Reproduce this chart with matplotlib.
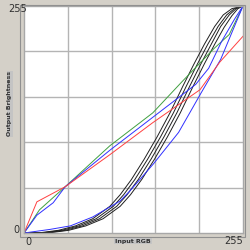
import matplotlib
matplotlib.use('Agg')
import matplotlib.pyplot as plt
from matplotlib.patches import Rectangle

# curve points (input, output)
red_x = [0, 15, 48, 100, 150, 205, 228, 255]
red_y = [0, 35, 52, 88, 124, 161, 192, 221]
green_x = [0, 18, 48, 100, 150, 184, 221, 239, 255]
green_y = [0, 26, 52, 98, 135, 170, 207, 223, 255]
blue_up_x = [0, 15, 34, 48, 100, 150, 200, 215, 230, 245, 255]
blue_up_y = [0, 20, 34, 52, 93, 130, 167, 185, 215, 240, 255]
blue_lo_x = [0, 30, 54, 80, 112, 124, 151, 180, 206, 229, 245, 255]
blue_lo_y = [0, 4, 8, 18, 36, 48, 78, 113, 157, 195, 232, 255]
black_x = [
    [0, 20, 40, 60, 80, 100, 112, 125, 140, 155, 170, 185, 198, 210, 222, 232, 242, 255],
    [0, 24, 44, 64, 84, 104, 116, 129, 144, 159, 174, 189, 202, 214, 226, 236, 245, 255],
    [0, 28, 48, 68, 88, 108, 120, 133, 148, 163, 178, 193, 206, 218, 229, 239, 247, 255],
    [0, 32, 52, 72, 92, 112, 124, 137, 152, 167, 182, 197, 210, 222, 233, 242, 249, 255],
]
black_y = [
    [0, 0.5, 3, 8, 16, 30, 43, 60, 83, 108, 135, 165, 190, 212, 232, 245, 252, 255],
    [0, 0.5, 3, 8, 16, 30, 43, 60, 83, 108, 135, 165, 190, 212, 232, 245, 252, 255],
    [0, 0.5, 3, 8, 16, 30, 43, 60, 83, 108, 135, 165, 190, 212, 232, 245, 252, 255],
    [0, 0.5, 3, 8, 16, 30, 43, 60, 83, 108, 135, 165, 190, 212, 231, 244, 252, 255],
]
grid_ticks = [0, 51, 102, 153, 204, 255]

W, H = 251, 250
fig = plt.figure(figsize=(W / 100, H / 100), dpi=100, facecolor='#d4d0c8')
ax = fig.add_axes([24 / W, (H - 233) / H, 219 / W, 227 / H])
ax.set_facecolor('white')
ax.set_xlim(0, 255)
ax.set_ylim(0, 255)
ax.set_xticks([])
ax.set_yticks([])
for t in grid_ticks[1:-1]:
    ax.axvline(t, color='#b4b4b4', lw=1.0)
    ax.axhline(t, color='#b4b4b4', lw=1.0)
for s in ax.spines.values():
    s.set_color('#a8a8a8')
    s.set_linewidth(1.0)

lw = 0.7
for xs, ys in zip(black_x, black_y):
    ax.plot(xs, ys, color='#202020', lw=lw)
ax.plot(green_x, green_y, color='#40a040', lw=lw)
ax.plot(blue_up_x, blue_up_y, color='#3030ff', lw=lw)
ax.plot(blue_lo_x, blue_lo_y, color='#3030ff', lw=lw)
ax.plot(red_x, red_y, color='#ff4040', lw=lw)

# outer sunken frame
fig.patches.append(Rectangle((20.5 / W, (H - 236.5) / H), 225 / W, 232 / H,
                             transform=fig.transFigure, fill=False,
                             edgecolor='#909090', lw=0.8))

fs = 7
fig.text(8 / W, 1 - 9 / H, '255', fontsize=fs, color='#303030', va='center', ha='left')
fig.text(13 / W, 1 - 230 / H, '0', fontsize=fs, color='#303030', va='center', ha='left')
fig.text(25 / W, 1 - 242 / H, '0', fontsize=fs, color='#303030', va='center', ha='left')
fig.text(243 / W, 1 - 241 / H, '255', fontsize=fs, color='#303030', va='center', ha='right')
fig.text(133 / W, 1 - 241 / H, 'Input RGB', fontsize=4.5, fontweight='bold', color='#303030',
         va='center', ha='center',
         bbox=dict(boxstyle='square,pad=0.15', fc='#c4c4c4', ec='none'))
fig.text(10 / W, 1 - 104 / H, 'Output Brightness', fontsize=4.5, fontweight='bold',
         color='#303030', va='center', ha='center', rotation=90,
         bbox=dict(boxstyle='square,pad=0.15', fc='#c4c4c4', ec='none'))

fig.savefig('out.png', dpi=100, facecolor=fig.get_facecolor())
